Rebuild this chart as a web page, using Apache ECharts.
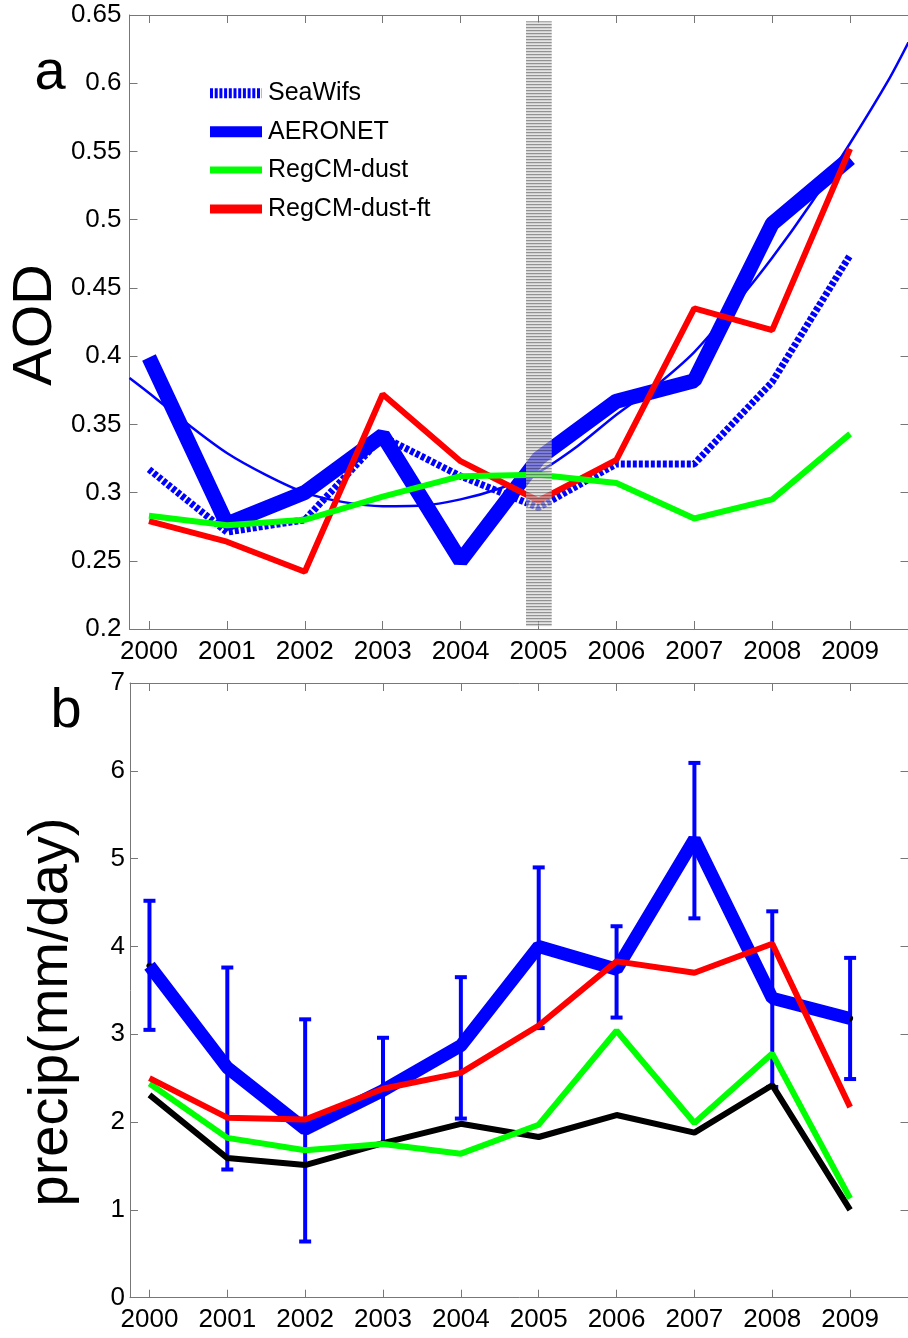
<!DOCTYPE html>
<html><head><meta charset="utf-8">
<script src="https://cdn.jsdelivr.net/npm/echarts@6/dist/echarts.min.js"></script>
<style>html,body{margin:0;padding:0;background:#fff}#c{width:908px;height:1338px}</style>
</head><body><div id="c"></div>
<script>
// ---------- data ----------
const years = [2000, 2001, 2002, 2003, 2004, 2005, 2006, 2007, 2008, 2009];
const aodTicks = [0.2, 0.25, 0.3, 0.35, 0.4, 0.45, 0.5, 0.55, 0.6, 0.65];
const precipTicks = [0, 1, 2, 3, 4, 5, 6, 7];

// panel a (AOD)
const seawifs     = [0.317, 0.271, 0.280, 0.341, 0.312, 0.289, 0.321, 0.321, 0.381, 0.474];
const aeronet     = [0.399, 0.277, 0.300, 0.342, 0.250, 0.325, 0.367, 0.382, 0.497, 0.545];
const regcmDust   = [0.283, 0.276, 0.280, 0.297, 0.312, 0.313, 0.307, 0.281, 0.295, 0.343];
const regcmDustFt = [0.279, 0.264, 0.242, 0.372, 0.323, 0.294, 0.324, 0.435, 0.419, 0.552];
// fitted AERONET trend curve
const fitYears = [1999.75, 2000, 2000.5, 2001, 2001.5, 2002, 2002.5, 2003, 2003.5, 2004, 2004.5,
                  2005, 2005.5, 2006, 2006.5, 2007, 2007.5, 2008, 2008.5, 2009, 2009.5, 2009.75];
const fitAOD   = [0.384, 0.373, 0.350, 0.329, 0.313, 0.300, 0.293, 0.290, 0.2905, 0.295, 0.303,
                  0.315, 0.334, 0.357, 0.378, 0.403, 0.436, 0.472, 0.512, 0.556, 0.603, 0.630];
// hatched band around 2005: [xStart, xEnd, yLow, yHigh]
const hatchBand = [2004.84, 2005.17, 0.202, 0.6455];

// panel b (precip)
const precipObs     = [3.78, 2.62, 1.92, 2.36, 2.87, 4.00, 3.74, 5.22, 3.41, 3.18];
const precipObsLow  = [3.05, 1.46, 0.64, 1.74, 2.04, 3.07, 3.19, 4.32, 2.40, 2.49];
const precipObsHigh = [4.52, 3.76, 3.17, 2.96, 3.65, 4.90, 4.23, 6.09, 4.40, 3.87];
const precipCtrl    = [2.31, 1.59, 1.51, 1.76, 1.98, 1.83, 2.08, 1.88, 2.42, 1.00];
const precipDust    = [2.44, 1.82, 1.68, 1.75, 1.64, 1.97, 3.04, 1.99, 2.78, 1.13];
const precipDustFt  = [2.50, 2.05, 2.03, 2.38, 2.56, 3.10, 3.83, 3.70, 4.03, 2.17];

const legendNames = ['SeaWifs', 'AERONET', 'RegCM-dust', 'RegCM-dust-ft'];

// ---------- styling ----------
const FONT = 'Liberation Sans';
const AX = '#777';
const BLUE = '#0000ff', GREEN = '#00ff00', RED = '#ff0000';
const pair = (xs, ys) => xs.map((x, i) => [x, ys[i]]);

// hatch pattern
const pc = document.createElement('canvas');
pc.width = 4; pc.height = 3;
const pctx = pc.getContext('2d');
pctx.fillStyle = 'rgba(110,110,110,0.75)'; pctx.fillRect(0, 0, 4, 1);
pctx.fillStyle = 'rgba(185,185,185,0.65)'; pctx.fillRect(0, 1, 4, 1);
pctx.fillStyle = 'rgba(210,210,210,0.6)'; pctx.fillRect(0, 2, 4, 1);

function xAxes(gi) {
  const base = {
    gridIndex: gi, type: 'value', min: 1999.75, max: 2009.75,
    splitLine: { show: false },
    axisLine: { show: true, onZero: false, lineStyle: { color: AX, width: 1 } },
    axisTick: { show: true, inside: true, length: 8, customValues: years, lineStyle: { color: AX } }
  };
  return [
    Object.assign({}, base, { position: 'bottom',
      axisLabel: { show: true, customValues: years, margin: gi === 0 ? 10 : 9,
        color: '#000', fontSize: 26, fontFamily: FONT, formatter: v => String(Math.round(v)) } }),
    Object.assign({}, base, { position: 'top', axisLabel: { show: false } })
  ];
}
function yAxes(gi, min, max, interval, ticks, margin) {
  const base = {
    gridIndex: gi, type: 'value', min, max, interval,
    splitLine: { show: false },
    axisLine: { show: true, onZero: false, lineStyle: { color: AX, width: 1 } },
    axisTick: { show: true, inside: true, length: 8, customValues: ticks, lineStyle: { color: AX } }
  };
  return [
    Object.assign({}, base, { position: 'left',
      axisLabel: { show: true, customValues: ticks, margin, color: '#000', fontSize: 26, fontFamily: FONT,
        formatter: v => String(parseFloat((+v).toFixed(2))) } }),
    Object.assign({}, base, { position: 'right', axisLabel: { show: false } })
  ];
}

const lineS = (name, data, color, width, extra) => Object.assign({
  name, type: 'line', data, xAxisIndex: 0, yAxisIndex: 0,
  showSymbol: false, symbol: 'none', silent: true, animation: false,
  lineStyle: { color, width }
}, extra || {});

const legendRowsY = [93.3, 131.7, 170, 209];
const legendGraphics = [];
const legendStyles = [
  { stroke: BLUE, lineWidth: 10, lineDash: [3, 1.7] },
  { stroke: BLUE, lineWidth: 11 },
  { stroke: GREEN, lineWidth: 7 },
  { stroke: RED, lineWidth: 9 }
];
legendNames.forEach((n, i) => {
  legendGraphics.push({ type: 'line', shape: { x1: 210, y1: legendRowsY[i], x2: 262, y2: legendRowsY[i] },
    style: legendStyles[i], silent: true });
  legendGraphics.push({ type: 'text', x: 268, y: legendRowsY[i],
    style: { text: n, font: '25px "' + FONT + '"', fill: '#000', textAlign: 'left', textVerticalAlign: 'middle' } });
});

const option = {
  animation: false,
  backgroundColor: '#fff',
  grid: [
    { left: 129.5, top: 15, width: 779, height: 614, outerBoundsMode: 'none', containLabel: false },
    { left: 130, top: 683, width: 778.5, height: 614.7, outerBoundsMode: 'none', containLabel: false }
  ],
  xAxis: [...xAxes(0), ...xAxes(1)],
  yAxis: [...yAxes(0, 0.2, 0.65, 0.05, aodTicks, 8), ...yAxes(1, 0, 7, 1, precipTicks, 5)],
  graphic: [
    ...legendGraphics,
    { type: 'text', x: 50, y: 74, style: { text: 'a', font: '56px "' + FONT + '"', fill: '#000', textAlign: 'center', textVerticalAlign: 'middle' } },
    { type: 'text', x: 66, y: 712, style: { text: 'b', font: '56px "' + FONT + '"', fill: '#000', textAlign: 'center', textVerticalAlign: 'middle' } },
    { type: 'text', x: 36, y: 325, rotation: Math.PI / 2, style: { text: 'AOD', font: '56px "' + FONT + '"', fill: '#000', textAlign: 'center', textVerticalAlign: 'middle' } },
    { type: 'text', x: 52, y: 1012, rotation: Math.PI / 2, style: { text: 'precip(mm/day)', font: '56px "' + FONT + '"', fill: '#000', textAlign: 'center', textVerticalAlign: 'middle' } }
  ],
  series: [
    // panel a
    lineS('AERONET fit', pair(fitYears, fitAOD), BLUE, 2.5, { smooth: 0.3 }),
    lineS('AERONET', pair(years, aeronet), BLUE, 15),
    lineS('SeaWifs', pair(years, seawifs), BLUE, 7, { lineStyle: { color: BLUE, width: 7, type: [4, 2] } }),
    lineS('RegCM-dust-ft', pair(years, regcmDustFt), RED, 6),
    lineS('RegCM-dust', pair(years, regcmDust), GREEN, 6),
    {
      name: 'band', type: 'custom', xAxisIndex: 0, yAxisIndex: 0, z: 5, silent: true, animation: false,
      data: [hatchBand],
      renderItem: (params, api) => {
        const p0 = api.coord([api.value(0), api.value(3)]);
        const p1 = api.coord([api.value(1), api.value(2)]);
        return { type: 'rect', shape: { x: p0[0], y: p0[1], width: p1[0] - p0[0], height: p1[1] - p0[1] },
          style: { fill: { image: pc, repeat: 'repeat' } } };
      }
    },
    // panel b
    {
      name: 'obs error', type: 'custom', xAxisIndex: 2, yAxisIndex: 2, silent: true, animation: false,
      data: years.map((y, i) => [y, precipObsLow[i], precipObsHigh[i]]),
      encode: { x: 0, y: [1, 2] },
      renderItem: (params, api) => {
        const x = api.value(0);
        const lo = api.coord([x, api.value(1)]);
        const hi = api.coord([x, api.value(2)]);
        const h = 6;
        const st = { stroke: BLUE, lineWidth: 4 };
        return { type: 'group', children: [
          { type: 'line', shape: { x1: lo[0], y1: lo[1], x2: hi[0], y2: hi[1] }, style: st },
          { type: 'line', shape: { x1: lo[0] - h, y1: lo[1], x2: lo[0] + h, y2: lo[1] }, style: st },
          { type: 'line', shape: { x1: hi[0] - h, y1: hi[1], x2: hi[0] + h, y2: hi[1] }, style: st }
        ] };
      }
    },
    lineS('obs line', pair(years, precipObs), '#000', 6, { xAxisIndex: 2, yAxisIndex: 2, lineStyle: { color: '#000', width: 6, cap: 'round' } }),
    lineS('obs', pair(years, precipObs), BLUE, 13, { xAxisIndex: 2, yAxisIndex: 2 }),
    lineS('RegCM', pair(years, precipCtrl), '#000', 6, { xAxisIndex: 2, yAxisIndex: 2 }),
    lineS('RegCM-dust (b)', pair(years, precipDust), GREEN, 6, { xAxisIndex: 2, yAxisIndex: 2 }),
    lineS('RegCM-dust-ft (b)', pair(years, precipDustFt), RED, 6, { xAxisIndex: 2, yAxisIndex: 2 })
  ]
};

const chart = echarts.init(document.getElementById('c'), null, { renderer: 'canvas' });
chart.setOption(option);
</script>
</body></html>
